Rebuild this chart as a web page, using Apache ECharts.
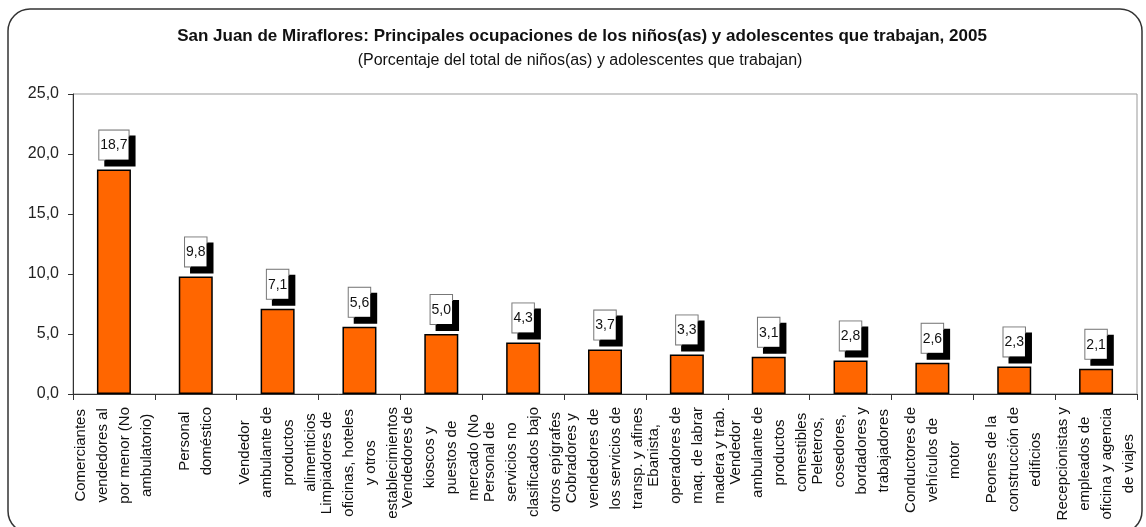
<!DOCTYPE html>
<html>
<head>
<meta charset="utf-8">
<script src="https://cdn.jsdelivr.net/npm/echarts@6/dist/echarts.min.js"></script>
<style>
  html, body { margin: 0; padding: 0; background: #fff; }
  #chart { width: 1146px; height: 527px; }
</style>
</head>
<body>
<div id="chart"></div>
<script>
// categories (line breaks as in the original)
var categories = [
  'Comerciantes\nvendedores al\npor menor (No\nambulatorio)',
  'Personal\ndoméstico',
  'Vendedor\nambulante de\nproductos\nalimenticios',
  'Limpiadores de\noficinas, hoteles\ny otros\nestablecimientos',
  'Vendedores de\nkioscos y\npuestos de\nmercado (No',
  'Personal de\nservicios no\nclasificados bajo\notros epígrafes',
  'Cobradores y\nvendedores de\nlos servicios de\ntransp. y afines',
  'Ebanista,\noperadores de\nmaq. de labrar\nmadera y trab.',
  'Vendedor\nambulante de\nproductos\ncomestibles',
  'Peleteros,\ncosedores,\nbordadores y\ntrabajadores',
  'Conductores de\nvehículos de\nmotor',
  'Peones de la\nconstrucción de\nedificios',
  'Recepcionistas y\nempleados de\noficina y agencia\nde viajes'
]
var values = [18.7, 9.8, 7.1, 5.6, 5.0, 4.3, 3.7, 3.3, 3.1, 2.8, 2.6, 2.3, 2.1]
var yTicks = [0, 5, 10, 15, 20, 25]

var titleText = 'San Juan de Miraflores: Principales ocupaciones de los niños(as) y adolescentes que trabajan, 2005'
var subText = '(Porcentaje del total de niños(as) y adolescentes que trabajan)'

var FONT = 'Liberation Sans, Arial, sans-serif'

function comma(v) {
  return v.toFixed(1).replace('.', ',')
}

var myChart = echarts.init(document.getElementById('chart'))
var option = {
  animation: false,
  backgroundColor: '#fff',
  title: [
    {
      text: titleText,
      left: 582,
      top: 28,
      padding: 0,
      textAlign: 'center',
      textStyle: { fontFamily: FONT, fontSize: 17, fontWeight: 'bold', color: '#111' }
    },
    {
      text: subText,
      left: 580,
      top: 53,
      padding: 0,
      textAlign: 'center',
      textStyle: { fontFamily: FONT, fontSize: 16, fontWeight: 'normal', color: '#111' }
    }
  ],
  graphic: [
    {
      type: 'rect',
      shape: { x: 8, y: 9, width: 1134, height: 524, r: 22 },
      style: { fill: 'none', stroke: '#333', lineWidth: 1.5 },
      silent: true
    }
  ],
  grid: {
    left: 73,
    right: 9,
    top: 94,
    bottom: 133,
    show: true,
    borderColor: '#999',
    borderWidth: 1
  },
  xAxis: {
    type: 'category',
    data: categories,
    axisLine: { lineStyle: { color: '#333', width: 1 } },
    axisTick: { show: true, length: 6, lineStyle: { color: '#333' } },
    axisLabel: {
      interval: 0,
      rotate: 90,
      margin: 13,
      formatter: function (val) {
        return val.split('\n').map(function (s) { return '{c|' + s + '}' }).join('\n')
      },
      rich: {
        c: {
          align: 'center',
          fontFamily: FONT,
          fontSize: 15,
          lineHeight: 22,
          color: '#111'
        }
      }
    }
  },
  yAxis: {
    type: 'value',
    min: yTicks[0],
    max: yTicks[yTicks.length - 1],
    interval: 5,
    splitLine: { show: false },
    axisLine: { show: true, lineStyle: { color: '#333', width: 1 } },
    axisTick: { show: true, length: 5, lineStyle: { color: '#333' } },
    axisLabel: {
      margin: 14,
      fontFamily: FONT,
      fontSize: 16,
      color: '#222',
      formatter: function (v) { return comma(v) }
    }
  },
  series: [
    {
      type: 'bar',
      data: values,
      barWidth: 34,
      itemStyle: {
        color: '#FF6600',
        borderColor: '#000',
        borderWidth: 1.5
      },
      label: {
        show: true,
        position: 'top',
        distance: 10,
        formatter: function (p) { return comma(p.value) },
        fontFamily: FONT,
        fontSize: 14,
        lineHeight: 14,
        color: '#111',
        backgroundColor: '#fff',
        borderColor: '#777',
        borderWidth: 1,
        padding: [8, 1, 7, 1],
        shadowColor: '#000',
        shadowBlur: 0,
        shadowOffsetX: 6,
        shadowOffsetY: 6
      }
    }
  ]
}
myChart.setOption(option)
</script>
</body>
</html>
